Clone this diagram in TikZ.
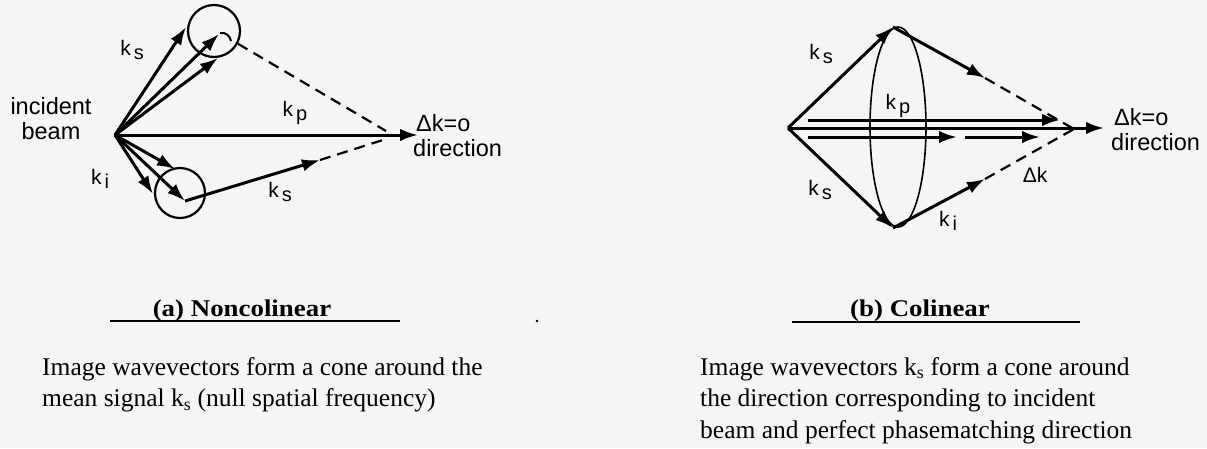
\documentclass[tikz,border=0pt]{standalone}
\usepackage{fontspec}
\setmainfont{Liberation Serif}
\newfontfamily\labfont{Liberation Sans}
\newfontfamily\capfont[FakeStretch=1.12]{Liberation Serif}
\usetikzlibrary{arrows.meta}
\definecolor{bg}{RGB}{245,245,245}
\newcommand\kvec[1]{k\hspace{3pt}\raisebox{-4pt}{\fontsize{20}{20}\selectfont #1}}
\begin{document}
\begin{tikzpicture}[x=1pt,y=-1pt,
  vec/.style={line width=3pt,-{Latex[length=18pt,width=12.5pt]}},
  dsh/.style={line width=2.2pt,dash pattern=on 11pt off 7pt},
  ring/.style={draw,circle,line width=2.2pt,inner sep=0pt},
  lbl/.style={font=\labfont\fontsize{21}{23}\selectfont,inner sep=0pt},
  big/.style={font=\labfont\fontsize{23.5}{25}\selectfont,inner sep=0pt},
  captxt/.style={font=\capfont\bfseries\fontsize{24}{26}\selectfont,inner sep=0pt},
  body/.style={font=\fontsize{25.5}{31}\selectfont,inner sep=0pt,anchor=base west},
  uline/.style={line width=1.6pt}
]
\fill[bg] (0,0) rectangle (1207,448);
\useasboundingbox (0,0) rectangle (1207,448);

% ---------- (a) Noncolinear ----------
\coordinate (O) at (115,135);
\node[ring,minimum size=52pt] (c1) at (214,31) {};
\node[ring,minimum size=50pt] (c2) at (180,193) {};
\coordinate (a1) at (186,27);
\coordinate (a2) at (219,34);
\coordinate (a3) at (218,58);
\coordinate (b1) at (175,169);
\coordinate (b2) at (185,201);
\coordinate (b3) at (153,194);
\coordinate (s2) at (320,160);
\coordinate (F) at (386,131);
\coordinate (F2) at (386,139);
\coordinate (P) at (418,135);
\coordinate (tl1) at (220,33);
\coordinate (tl2) at (231,41);

\draw[vec] (O) -- (a1);
\draw[vec] (O) -- (a2);
\draw[vec] (O) -- (a3);
\draw[line width=2pt] (tl1) .. controls (226,32) and (230,36) .. (tl2);
\draw[vec] (O) -- (P);
\draw[vec] (O) -- (b1);
\draw[vec] (O) -- (b2);
\draw[vec] (O) -- (b3);
\draw[vec] (b2) -- (s2);
\draw[dsh] (c1.-28) -- (F);
\draw[dsh] (s2) -- (F2);

\node[big,align=center] (inc) at (51,119) {incident\\beam};
\node[lbl] (ks1) at (132,50) {\kvec{s}};
\node[lbl] (kp1) at (295,113) {\kvec{p}};
\node[lbl] (ki1) at (100,179) {\kvec{i}};
\node[lbl] (ks2) at (280,192) {\kvec{s}};
\node[big,align=left,anchor=west] (dir1) at (413,136) {\hspace{3pt}Δk=o\\direction};

\node[captxt] (capa) at (242,311) {(a) Noncolinear};
\coordinate (ula) at (110,321);
\coordinate (ulb) at (400,321);
\draw[uline] (ula) -- (ulb);
\node[body] (bodya1) at (42,375) {Image wavevectors form a cone around the};
\node[body] (bodya2) at (42,406.5) {mean signal k\textsubscript{s} (null spatial frequency)};

\fill (537,321) circle (1.3pt);

% ---------- (b) Colinear ----------
\coordinate (O2) at (788,128);
\coordinate (T) at (893,27);
\coordinate (B) at (893,228);
\coordinate (U) at (985,78);
\coordinate (L) at (985,179);
\coordinate (F3) at (1074,129);
\coordinate (P2) at (1104,128);
\coordinate (p1s) at (808,120);
\coordinate (p1e) at (1060,120);
\coordinate (q1s) at (808,137);
\coordinate (q1e) at (957,137);
\coordinate (q2s) at (965,137);
\coordinate (q2e) at (1040,137);

\draw[line width=1.6pt] (898,127) ellipse [x radius=28, y radius=100];
\draw[vec] (O2) -- (T);
\draw[vec] (O2) -- (B);
\draw[vec] (T) -- (U);
\draw[vec] (B) -- (L);
\draw[dsh] (U) -- (F3);
\draw[dsh] (L) -- (F3);
\draw[vec] (O2) -- (P2);
\draw[vec] (p1s) -- (p1e);
\draw[vec] (q1s) -- (q1e);
\draw[vec] (q2s) -- (q2e);

\node[lbl] (ks3) at (821,54) {\kvec{s}};
\node[lbl] (kp2) at (898,106) {\kvec{p}};
\node[lbl] (ks4) at (820,190) {\kvec{s}};
\node[lbl] (ki2) at (948,221) {\kvec{i}};
\node[lbl] (dk) at (1035,175) {Δk};
\node[big,align=left,anchor=west] (dir2) at (1111,130) {\hspace{3pt}Δk=o\\direction};

\node[captxt] (capb) at (920,311) {(b) Colinear};
\coordinate (ulc) at (792,322);
\coordinate (uld) at (1080,322);
\draw[uline] (ulc) -- (uld);
\node[body] (bodyb1) at (700,375) {Image wavevectors k\textsubscript{s} form a cone around};
\node[body] (bodyb2) at (700,406.5) {the direction corresponding to incident};
\node[body] (bodyb3) at (700,438) {beam and perfect phasematching direction};
\end{tikzpicture}
\end{document}
